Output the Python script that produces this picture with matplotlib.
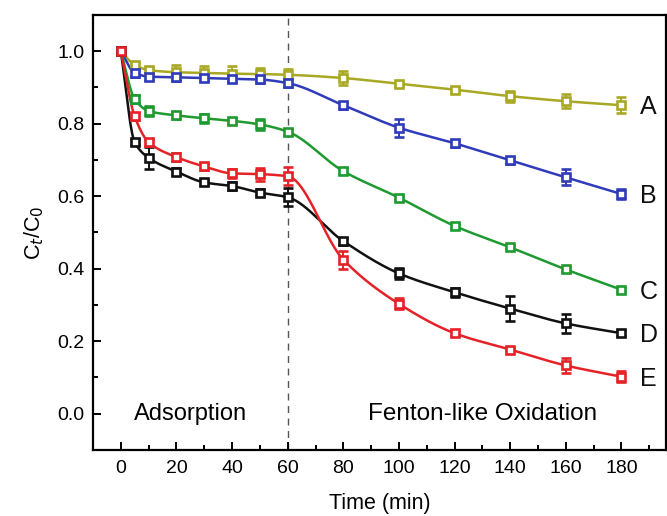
import matplotlib
matplotlib.use("Agg")
import matplotlib.pyplot as plt
import numpy as np
from matplotlib.ticker import MultipleLocator

plt.rcParams["font.family"] = ["Liberation Sans", "DejaVu Sans"]

time = [0, 5, 10, 20, 30, 40, 50, 60, 80, 100, 120, 140, 160, 180]

a_vals = [1.0, 0.962, 0.948, 0.942, 0.940, 0.938, 0.937, 0.935, 0.926, 0.910, 0.894, 0.876, 0.862, 0.851]
a_err = [0.005, 0.008, 0.008, 0.02, 0.02, 0.02, 0.018, 0.015, 0.02, 0.006, 0.006, 0.015, 0.02, 0.022]
b_vals = [1.0, 0.940, 0.930, 0.928, 0.926, 0.924, 0.922, 0.912, 0.851, 0.789, 0.746, 0.699, 0.652, 0.606]
b_err = [0.005, 0.01, 0.01, 0.01, 0.008, 0.008, 0.01, 0.01, 0.01, 0.025, 0.01, 0.01, 0.022, 0.015]
c_vals = [1.0, 0.868, 0.835, 0.823, 0.815, 0.808, 0.798, 0.778, 0.669, 0.596, 0.518, 0.459, 0.398, 0.342]
c_err = [0.005, 0.01, 0.015, 0.01, 0.012, 0.008, 0.015, 0.008, 0.008, 0.006, 0.006, 0.006, 0.006, 0.006]
d_vals = [1.0, 0.749, 0.706, 0.668, 0.638, 0.628, 0.610, 0.597, 0.476, 0.387, 0.335, 0.290, 0.249, 0.222]
d_err = [0.005, 0.008, 0.03, 0.01, 0.008, 0.01, 0.01, 0.025, 0.01, 0.015, 0.012, 0.035, 0.025, 0.008]
e_vals = [1.0, 0.820, 0.749, 0.708, 0.682, 0.663, 0.661, 0.655, 0.425, 0.303, 0.222, 0.177, 0.133, 0.102]
e_err = [0.005, 0.01, 0.01, 0.01, 0.01, 0.012, 0.018, 0.025, 0.025, 0.015, 0.008, 0.005, 0.02, 0.015]

labels = ["A", "B", "C", "D", "E"]
colors = ["#a9a824", "#2f3bb8", "#1e9a30", "#111111", "#e52228"]


def smooth(x, y, n=400):
    # monotone cubic (Fritsch-Carlson) so the drawn lines curve like the original
    x = np.asarray(x, float)
    y = np.asarray(y, float)
    h = np.diff(x)
    d = np.diff(y) / h
    m = np.zeros_like(y)
    m[0], m[-1] = d[0], d[-1]
    for i in range(1, len(x) - 1):
        if d[i - 1] * d[i] > 0:
            w1 = 2 * h[i] + h[i - 1]
            w2 = h[i] + 2 * h[i - 1]
            m[i] = (w1 + w2) / (w1 / d[i - 1] + w2 / d[i])
    xs = np.linspace(x[0], x[-1], n)
    k = np.clip(np.searchsorted(x, xs) - 1, 0, len(x) - 2)
    t = (xs - x[k]) / h[k]
    h00 = 2 * t**3 - 3 * t**2 + 1
    h10 = t**3 - 2 * t**2 + t
    h01 = -2 * t**3 + 3 * t**2
    h11 = t**3 - t**2
    ys = h00 * y[k] + h10 * h[k] * m[k] + h01 * y[k + 1] + h11 * h[k] * m[k + 1]
    return xs, ys


fig = plt.figure(figsize=(6.67, 5.16), dpi=100)
ax = fig.add_axes([0.1394, 0.128, 0.8591, 0.843])

series = [(a_vals, a_err), (b_vals, b_err), (c_vals, c_err), (d_vals, d_err), (e_vals, e_err)]
for (vals, err), lab, col in zip(series, labels, colors):
    xs, ys = smooth(time, vals)
    ax.plot(xs, ys, color=col, lw=1.8, zorder=2)
    ax.errorbar(time, vals, yerr=err, fmt="s", color=col, mfc="white", mec=col,
                mew=1.9, ms=5.5, ecolor=col, elinewidth=1.4, capsize=3.5, capthick=1.4, zorder=3)
    ax.text(186.5, vals[-1] - 0.005, lab, fontsize=18, va="center", ha="left", color="#111111")

ax.axvline(60, color="#555555", lw=1.0, ls=(0, (5, 4)), zorder=1)

ax.text(25, 0.0, "Adsorption", fontsize=17, ha="center", va="center")
ax.text(130, 0.0, "Fenton-like Oxidation", fontsize=17.5, ha="center", va="center")

ax.set_xlim(-10, 196)
ax.set_ylim(-0.1, 1.1)
ax.xaxis.set_major_locator(MultipleLocator(20))
ax.xaxis.set_minor_locator(MultipleLocator(10))
ax.yaxis.set_major_locator(MultipleLocator(0.2))
ax.yaxis.set_minor_locator(MultipleLocator(0.1))
ax.set_yticks(np.arange(0, 1.01, 0.2))
ax.set_yticklabels([f"{v:.1f}" for v in np.arange(0, 1.01, 0.2)])
ax.tick_params(which="both", direction="in", top=False, right=False, labelsize=14, width=1.4)
ax.tick_params(axis="x", which="major", length=6, pad=7)
ax.tick_params(axis="y", which="major", length=6, pad=6)
ax.tick_params(which="minor", length=3.5)
for sp in ax.spines.values():
    sp.set_linewidth(1.6)

ax.set_xlabel("Time (min)", fontsize=15.5, labelpad=12)
ax.set_ylabel("C$_t$/C$_0$", fontsize=15.5, labelpad=8)

fig.savefig("out.png", dpi=100)
